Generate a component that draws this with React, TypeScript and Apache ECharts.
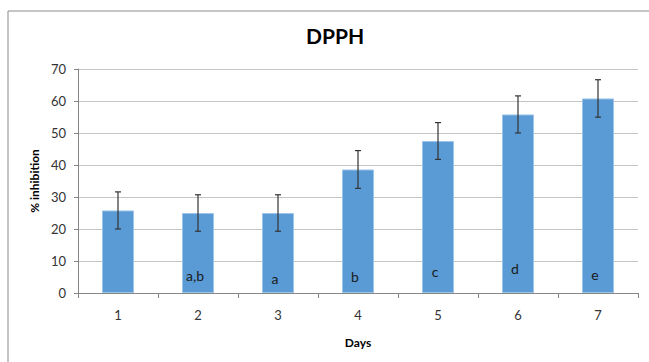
import React, { useEffect, useRef } from "react";
import * as echarts from "echarts";

const days = ["1", "2", "3", "4", "5", "6", "7"];
const inhibition = [25.8, 25.0, 25.0, 38.6, 47.5, 55.8, 60.8];
const errors = [5.8, 5.7, 5.7, 5.9, 5.75, 5.8, 5.85];
const letters = ["", "a,b", "a", "b", "c", "d", "e"];
const letterY = [0, 5.6, 4.4, 5.3, 6.6, 7.8, 5.9];
const yTicks = [0, 10, 20, 30, 40, 50, 60, 70];

const FONT = "Lato, 'Open Sans', sans-serif";

export default function App() {
  const ref = useRef<HTMLDivElement>(null);
  useEffect(() => {
    if (!ref.current) return;
    const chart = echarts.init(ref.current, null, { renderer: "svg" });
    chart.setOption({
      animation: false,
      backgroundColor: "#ffffff",
      textStyle: { fontFamily: FONT },
      title: {
        text: "DPPH",
        left: 330,
        top: 20,
        textAlign: "center",
        textStyle: { fontSize: 21, fontWeight: "bold", color: "#000", fontFamily: FONT },
      },
      graphic: [
        {
          type: "rect",
          shape: { x: 8, y: 11, width: 700, height: 400 },
          style: { fill: "none", stroke: "#8c8c8c", lineWidth: 1 },
          silent: true,
        },
      ],
      grid: { left: 78, right: 11, top: 69, bottom: 69 },
      xAxis: {
        type: "category",
        data: days,
        boundaryGap: true,
        name: "Days",
        nameLocation: "middle",
        nameGap: 43,
        nameTextStyle: { fontSize: 12, fontWeight: "bold", color: "#000", fontFamily: FONT },
        axisLine: { lineStyle: { color: "#868686" } },
        axisTick: { show: true, length: 5, lineStyle: { color: "#868686" } },
        axisLabel: { fontSize: 13, color: "#333", margin: 15, fontFamily: FONT },
      },
      yAxis: {
        type: "value",
        min: yTicks[0],
        max: yTicks[yTicks.length - 1],
        interval: 10,
        name: "% inhibition",
        nameLocation: "middle",
        nameGap: 38,
        nameRotate: 90,
        nameTextStyle: { fontSize: 12, fontWeight: "bold", color: "#000", fontFamily: FONT },
        axisLine: { show: true, lineStyle: { color: "#868686" } },
        axisTick: { show: true, length: 4, lineStyle: { color: "#868686" } },
        axisLabel: { fontSize: 13, color: "#333", margin: 12, fontFamily: FONT },
        splitLine: { lineStyle: { color: "#c6c6c6", width: 1 } },
      },
      series: [
        {
          type: "bar",
          data: inhibition,
          barWidth: 32,
          itemStyle: { color: "#5b9bd5", borderColor: "#9cc3e8", borderWidth: 1 },
          z: 2,
        },
        {
          type: "custom",
          z: 5,
          data: inhibition.map((v, i) => [i, v - errors[i], v + errors[i]]),
          renderItem: (params: any, api: any) => {
            const i = api.value(0);
            const lo = api.coord([i, api.value(1)]);
            const hi = api.coord([i, api.value(2)]);
            const cap = 3;
            const style = { stroke: "#333333", lineWidth: 1.2 };
            return {
              type: "group",
              children: [
                { type: "line", shape: { x1: hi[0], y1: hi[1], x2: lo[0], y2: lo[1] }, style },
                { type: "line", shape: { x1: hi[0] - cap, y1: hi[1], x2: hi[0] + cap, y2: hi[1] }, style },
                { type: "line", shape: { x1: lo[0] - cap, y1: lo[1], x2: lo[0] + cap, y2: lo[1] }, style },
              ],
            };
          },
        },
        {
          type: "custom",
          z: 6,
          data: letters.map((l, i) => [i, letterY[i], l]),
          renderItem: (params: any, api: any) => {
            const i = api.value(0);
            const p = api.coord([i, api.value(1)]);
            const txt = letters[i];
            return {
              type: "text",
              x: p[0] - 3,
              y: p[1],
              style: {
                text: txt,
                fill: "#1a1a1a",
                fontSize: 14,
                fontFamily: FONT,
                align: "center",
                verticalAlign: "middle",
              },
            };
          },
        },
      ],
    });
    return () => chart.dispose();
  }, []);
  return (
    <div
      ref={ref}
      style={{ position: "fixed", left: 0, top: 0, width: 649, height: 362 }}
    />
  );
}
